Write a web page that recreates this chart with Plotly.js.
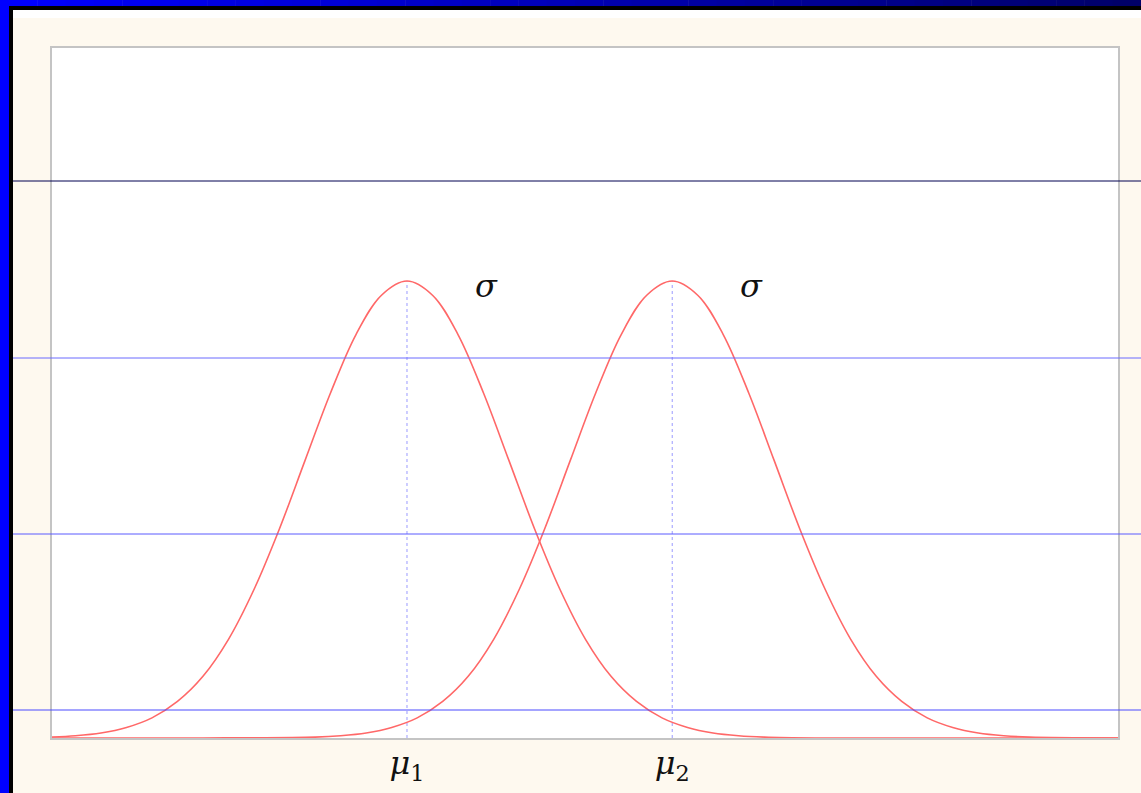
<!DOCTYPE html>
<html>
<head>
<meta charset="utf-8">
<script src="https://cdn.plot.ly/plotly-3.0.1.min.js"></script>
<style>
html,body{margin:0;padding:0;background:#fef9ef;overflow:hidden;}
#chart{width:1141px;height:793px;}
</style>
</head>
<body>
<div id="chart"></div>
<script>
// ---- data (x in units of sigma, mu1 = 0) ----
var means = [0, 2.6];
var meanLabels = ['<i>μ</i><sub>1</sub>', '<i>μ</i><sub>2</sub>'];
var peakValue = 1.0;

var x1 = [-3.5,-3.25,-3,-2.75,-2.5,-2.25,-2,-1.75,-1.5,-1.25,-1,-0.75,-0.5,-0.25,0,
          0.25,0.5,0.75,1,1.25,1.5,1.75,2,2.25,2.5,2.75,3,3.25,3.5,4,5,6,7];
var y1 = [0.002,0.005,0.011,0.023,0.044,0.080,0.135,0.216,0.325,0.458,0.607,0.755,0.883,0.969,1.000,
          0.969,0.883,0.755,0.607,0.458,0.325,0.216,0.135,0.080,0.044,0.023,0.011,0.005,0.002,0.000,0,0,0];

var x2 = [-3.5,-2,-0.9,-0.65,-0.4,-0.15,0.1,0.35,0.6,0.85,1.1,1.35,1.6,1.85,2.1,2.35,2.6,
          2.85,3.1,3.35,3.6,3.85,4.1,4.35,4.6,4.85,5.1,5.35,5.6,5.85,6.1,7];
var y2 = [0,0,0.002,0.005,0.011,0.023,0.044,0.080,0.135,0.216,0.325,0.458,0.607,0.755,0.883,0.969,1.000,
          0.969,0.883,0.755,0.607,0.458,0.325,0.216,0.135,0.080,0.044,0.023,0.011,0.005,0.002,0];

var sigmaLabel = '<i>σ</i>';

// ---- layout helpers (pixel -> paper) ----
var W = 1141, H = 793, mL = 52, mR = 23, mT = 48, mB = 55;
var pw = W - mL - mR, ph = H - mT - mB;
function PX(px){ return (px - mL) / pw; }
function PY(py){ return (H - mB - py) / ph; }

var shapes = [];
// page frame
shapes.push({type:'rect', xref:'paper', yref:'paper', x0:PX(0), x1:PX(9), y0:PY(793), y1:PY(0), fillcolor:'#0000ff', line:{width:0}, layer:'above'});
shapes.push({type:'rect', xref:'paper', yref:'paper', x0:PX(9), x1:PX(13), y0:PY(793), y1:PY(6), fillcolor:'#000000', line:{width:0}, layer:'above'});
shapes.push({type:'rect', xref:'paper', yref:'paper', x0:PX(13), x1:PX(1141), y0:PY(18), y1:PY(10), fillcolor:'#ffffff', line:{width:0}, layer:'above'});
shapes.push({type:'rect', xref:'paper', yref:'paper', x0:PX(9), x1:PX(1141), y0:PY(10), y1:PY(6), fillcolor:'#000000', line:{width:0}, layer:'above'});
var nSeg = 40;
for (var i = 0; i < nSeg; i++) {
  var a = PX(9 + (1141-9)*i/nSeg), b = PX(9 + (1141-9)*(i+1)/nSeg + 0.5);
  var t = i/(nSeg-1);
  var bl = Math.round(255 - (255-105)*t);
  shapes.push({type:'rect', xref:'paper', yref:'paper', x0:a, x1:b, y0:PY(6), y1:PY(0),
    fillcolor:'rgb(0,0,'+bl+')', line:{width:0}, layer:'above'});
}
// horizontal guide lines across the slide
var guides = [[181,'#000050'],[358,'#6a6aff'],[534,'#5a5aff'],[710,'#4a4aff']];
guides.forEach(function(g){
  shapes.push({type:'line', xref:'paper', yref:'paper', x0:PX(13), x1:PX(1141), y0:PY(g[0]), y1:PY(g[0]),
    line:{color:g[1], width:1}, layer:'above'});
});
// dotted mean lines
means.forEach(function(m){
  shapes.push({type:'line', xref:'x', yref:'y', x0:m, x1:m, y0:0, y1:peakValue,
    line:{color:'#9a9aff', width:1, dash:'dot'}, layer:'below'});
});

var traces = [
  {x:x1, y:y1, type:'scatter', mode:'lines', line:{color:'#ff6868', width:1.6, shape:'spline', smoothing:1}, hoverinfo:'skip', showlegend:false, cliponaxis:true},
  {x:x2, y:y2, type:'scatter', mode:'lines', line:{color:'#ff6868', width:1.6, shape:'spline', smoothing:1}, hoverinfo:'skip', showlegend:false, cliponaxis:true}
];

var labelFont = {family:'"DejaVu Serif", "Liberation Serif", serif', size:32, color:'#111111'};

var annotations = means.map(function(m){
  return {x:m+0.78, y:0.99, xref:'x', yref:'y', text:sigmaLabel, showarrow:false,
    xanchor:'center', yanchor:'middle', font:labelFont};
});

var layout = {
  width:W, height:H,
  margin:{l:mL, r:mR, t:mT, b:mB, pad:0},
  paper_bgcolor:'#fef9ef',
  plot_bgcolor:'#ffffff',
  showlegend:false,
  xaxis:{range:[-3.48, 6.97], showgrid:false, zeroline:false, showline:true, mirror:true,
    linecolor:'#c4c4c4', linewidth:2, ticks:'', tickvals:means, ticktext:meanLabels,
    ticklabelstandoff:-4, tickfont:labelFont, fixedrange:true},
  yaxis:{range:[0, 1.51], showgrid:false, zeroline:false, showline:true, mirror:true,
    linecolor:'#c4c4c4', linewidth:2, ticks:'', showticklabels:false, fixedrange:true},
  shapes:shapes,
  annotations:annotations
};

Plotly.newPlot('chart', traces, layout, {staticPlot:true, displayModeBar:false});
</script>
</body>
</html>
